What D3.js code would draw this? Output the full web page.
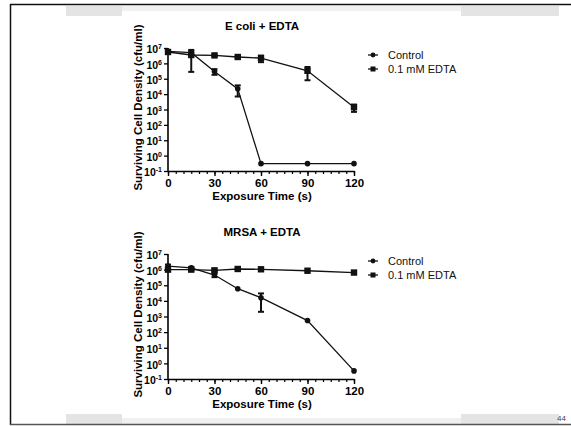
<!DOCTYPE html>
<html>
<head>
<meta charset="utf-8">
<script src="https://cdn.jsdelivr.net/npm/d3@7/dist/d3.min.js"></script>
<style>
  body { margin: 0; background: #fff; }
  svg { display: block; font-family: "Liberation Sans", Arial, sans-serif; }
</style>
</head>
<body>
<div id="my_dataviz"></div>
<script>
// data
let times = [0, 15, 30, 45, 60, 90, 120];
let seriesNames = ["Control", "0.1 mM EDTA"];
let panelTitles = ["E coli + EDTA", "MRSA + EDTA"];

// E coli panel
let ecoliControl = [6e6, 5e6, 3e5, 2.2e4, 0.3, 0.3, 0.3];
let ecoliControlErr = [1e6, 1.5e6, 1.2e5, 1.5e4, 0, 0, 0];
let ecoliEdta = [5.5e6, 3.5e6, 3.3e6, 2.6e6, 2.2e6, 3.3e5, 1.4e3];
let ecoliEdtaErr = [1e6, 4e6, 4e5, 3e5, 1e6, 2.5e5, 7e2];

// MRSA panel
let mrsaControl = [1.7e6, 1.3e6, 4.5e5, 6e4, 1.6e4, 5.5e2, 0.33];
let mrsaControlErr = [4e5, 2e5, 1.2e5, 0, 1.4e4, 0, 0];
let mrsaEdta = [1e6, 1e6, 9e5, 1.1e6, 1.05e6, 8.5e5, 6.5e5];
let mrsaEdtaErr = [2e5, 1.5e5, 1.5e5, 1.5e5, 1e5, 0, 0];

let yTicks = [1e-1, 1e0, 1e1, 1e2, 1e3, 1e4, 1e5, 1e6, 1e7];
let xTicks = [0, 30, 60, 90, 120];
let xMinor = d3.range(0, 121, 5);

let width = 571, height = 426;

let svg = d3.select('#my_dataviz').append('svg')
  .attr('width', width)
  .attr('height', height);

// slide frame
svg.append('rect').attr('x', 66).attr('y', 6).attr('width', 56).attr('height', 10).attr('fill', '#e4e4e4');
svg.append('rect').attr('x', 122).attr('y', 6).attr('width', 339).attr('height', 5).attr('fill', '#f0f0f0');
svg.append('rect').attr('x', 461).attr('y', 6).attr('width', 98).attr('height', 10).attr('fill', '#e4e4e4');
svg.append('rect').attr('x', 66).attr('y', 414).attr('width', 56).attr('height', 10).attr('fill', '#e4e4e4');
svg.append('rect').attr('x', 122).attr('y', 418).attr('width', 339).attr('height', 6).attr('fill', '#f0f0f0');
svg.append('rect').attr('x', 461).attr('y', 414).attr('width', 98).attr('height', 10).attr('fill', '#e4e4e4');
svg.append('line').attr('x1', 10).attr('x2', 571).attr('y1', 4.5).attr('y2', 4.5).attr('stroke', '#111').attr('stroke-width', 1.5);
svg.append('line').attr('x1', 10.5).attr('x2', 10.5).attr('y1', 4).attr('y2', 425).attr('stroke', '#111').attr('stroke-width', 1.5);
svg.append('line').attr('x1', 10).attr('x2', 571).attr('y1', 424.5).attr('y2', 424.5).attr('stroke', '#555').attr('stroke-width', 1.5);
svg.append('text').attr('x', 566).attr('y', 421).attr('text-anchor', 'end')
  .attr('font-size', 8).attr('fill', '#444').text('44');

let x = d3.scaleLinear().domain([0, 120]).range([168, 354]);

function sup(sel) {
  sel.each(function(d) {
    let t = d3.select(this);
    t.text(null);
    t.append('tspan').text('10');
    t.append('tspan').attr('dy', -4).attr('font-size', 7).text(Math.round(Math.log10(d)));
  });
}

function panel(top, bottom, title, control, controlErr, edta, edtaErr) {
  let y = d3.scaleLog().domain([1e-1, 1e7]).range([bottom, top]);
  let g = svg.append('g');

  // y axis
  let ya = g.append('g').attr('transform', 'translate(168,0)')
    .call(d3.axisLeft(y).tickValues(yTicks).tickSize(4).tickPadding(2));
  ya.select('.domain').attr('stroke-width', 1.6).attr('d', 'M0,' + top + 'V' + bottom);
  ya.selectAll('.tick line').attr('stroke-width', 1.3);
  ya.selectAll('.tick text').attr('font-size', 10.5).attr('font-weight', 'bold').attr('dy', '0.45em').call(sup);

  // x axis
  let xm = g.append('g').attr('transform', 'translate(0,' + bottom + ')')
    .call(d3.axisBottom(x).tickValues(xMinor).tickSize(3).tickFormat(''));
  xm.select('.domain').remove();
  xm.selectAll('.tick line').attr('stroke-width', 1.2);
  let xa = g.append('g').attr('transform', 'translate(0,' + bottom + ')')
    .call(d3.axisBottom(x).tickValues(xTicks).tickSize(5).tickSizeOuter(0).tickPadding(3));
  xa.select('.domain').attr('stroke-width', 1.6);
  xa.selectAll('.tick line').attr('stroke-width', 1.4);
  xa.selectAll('.tick text').attr('font-size', 11.5).attr('font-weight', 'bold');

  g.append('text').attr('x', 262).attr('y', top - 18).attr('text-anchor', 'middle')
    .attr('font-size', 11.5).attr('font-weight', 'bold').text(title);
  g.append('text').attr('x', 262).attr('y', bottom + 29).attr('text-anchor', 'middle')
    .attr('font-size', 11.5).attr('font-weight', 'bold').text('Exposure Time (s)');
  g.append('text').attr('transform', 'translate(142,' + ((top + bottom) / 2 - 2) + ') rotate(-90)')
    .attr('text-anchor', 'middle').attr('font-size', 11.5).attr('font-weight', 'bold')
    .text('Surviving Cell Density (cfu/ml)');

  let line = d3.line().x(d => x(d.t)).y(d => y(d.v));
  let sets = [
    { vals: control, err: controlErr, shape: 'circle' },
    { vals: edta, err: edtaErr, shape: 'square' }
  ];
  sets.forEach(function(s) {
    let pts = times.map((t, i) => ({ t: t, v: s.vals[i], e: s.err[i] }));
    g.append('path').datum(pts).attr('d', line)
      .attr('fill', 'none').attr('stroke', '#111').attr('stroke-width', 1.3);
    let eb = g.selectAll(null).data(pts.filter(d => d.e > 0)).enter().append('g');
    eb.append('line').attr('x1', d => x(d.t)).attr('x2', d => x(d.t))
      .attr('y1', d => y(d.v + d.e)).attr('y2', d => y(Math.max(d.v - d.e, d.v * 0.08)))
      .attr('stroke', '#111').attr('stroke-width', 2);
    eb.append('line').attr('x1', d => x(d.t) - 3).attr('x2', d => x(d.t) + 3)
      .attr('y1', d => y(d.v + d.e)).attr('y2', d => y(d.v + d.e))
      .attr('stroke', '#111').attr('stroke-width', 2);
    eb.append('line').attr('x1', d => x(d.t) - 3).attr('x2', d => x(d.t) + 3)
      .attr('y1', d => y(Math.max(d.v - d.e, d.v * 0.08))).attr('y2', d => y(Math.max(d.v - d.e, d.v * 0.08)))
      .attr('stroke', '#111').attr('stroke-width', 2);
    if (s.shape === 'circle') {
      g.selectAll(null).data(pts).enter().append('circle')
        .attr('cx', d => x(d.t)).attr('cy', d => y(d.v)).attr('r', 2.8).attr('fill', '#111');
    } else {
      g.selectAll(null).data(pts).enter().append('rect')
        .attr('x', d => x(d.t) - 3.2).attr('y', d => y(d.v) - 3.2)
        .attr('width', 6.4).attr('height', 6.4).attr('fill', '#111');
    }
  });

  // legend
  let lg = g.append('g');
  seriesNames.forEach(function(name, i) {
    let ly = top + 7 + i * 14;
    lg.append('line').attr('x1', 368).attr('x2', 378).attr('y1', ly).attr('y2', ly)
      .attr('stroke', '#111').attr('stroke-width', 1.3);
    if (i === 0) lg.append('circle').attr('cx', 373).attr('cy', ly).attr('r', 2.4).attr('fill', '#111');
    else lg.append('rect').attr('x', 370.5).attr('y', ly - 2.5).attr('width', 5).attr('height', 5).attr('fill', '#111');
    lg.append('text').attr('x', 388).attr('y', ly + 4).attr('font-size', 11).attr('fill', '#111').text(name);
  });
}

panel(48, 171, panelTitles[0], ecoliControl, ecoliControlErr, ecoliEdta, ecoliEdtaErr);
panel(254, 379, panelTitles[1], mrsaControl, mrsaControlErr, mrsaEdta, mrsaEdtaErr);
</script>
</body>
</html>
